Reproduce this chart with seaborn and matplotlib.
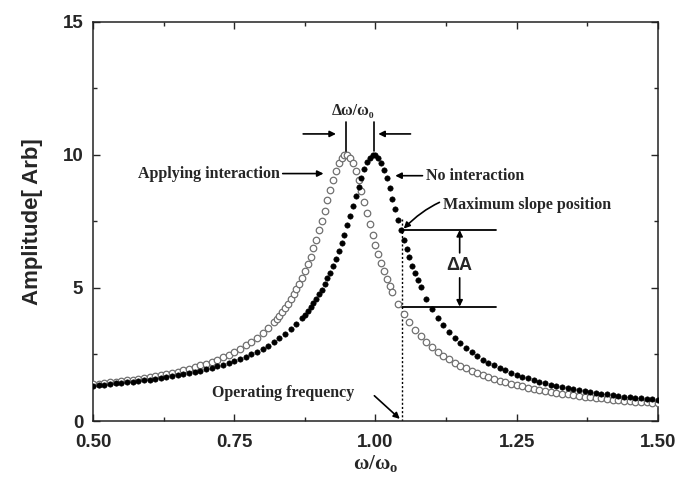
import matplotlib
matplotlib.use("Agg")
import matplotlib.pyplot as plt
from matplotlib.ticker import MultipleLocator, AutoMinorLocator
import pandas as pd
import seaborn as sns

# resonance curves
x_no = [0.50, 0.51, 0.52, 0.53, 0.54, 0.55, 0.56, 0.57, 0.58, 0.59,
        0.60, 0.61, 0.62, 0.63, 0.64, 0.65, 0.66, 0.67, 0.68, 0.69,
        0.70, 0.71, 0.72, 0.73, 0.74, 0.75, 0.76, 0.77, 0.78, 0.79,
        0.80, 0.81, 0.82, 0.83, 0.84, 0.85, 0.86, 0.87, 0.875, 0.88,
        0.885, 0.89, 0.895, 0.90, 0.905, 0.91, 0.915, 0.92, 0.925, 0.93,
        0.935, 0.94, 0.945, 0.95, 0.955, 0.96, 0.965, 0.97, 0.975, 0.98,
        0.985, 0.99, 0.995, 1.00, 1.005, 1.01, 1.015, 1.02, 1.025, 1.03,
        1.035, 1.04, 1.045, 1.05, 1.055, 1.06, 1.065, 1.07, 1.075, 1.08,
        1.09, 1.10, 1.11, 1.12, 1.13, 1.14, 1.15, 1.16, 1.17, 1.18,
        1.19, 1.20, 1.21, 1.22, 1.23, 1.24, 1.25, 1.26, 1.27, 1.28,
        1.29, 1.30, 1.31, 1.32, 1.33, 1.34, 1.35, 1.36, 1.37, 1.38,
        1.39, 1.40, 1.41, 1.42, 1.43, 1.44, 1.45, 1.46, 1.47, 1.48,
        1.49, 1.50]
amp_no = [1.33, 1.35, 1.37, 1.39, 1.41, 1.43, 1.45, 1.48, 1.50, 1.53,
          1.56, 1.59, 1.62, 1.65, 1.68, 1.72, 1.76, 1.80, 1.85, 1.89,
          1.94, 2.00, 2.05, 2.12, 2.18, 2.25, 2.33, 2.41, 2.50, 2.60,
          2.71, 2.83, 2.96, 3.11, 3.27, 3.45, 3.65, 3.87, 4.00, 4.13,
          4.27, 4.42, 4.58, 4.76, 4.94, 5.14, 5.36, 5.58, 5.83, 6.10,
          6.38, 6.69, 7.01, 7.35, 7.70, 8.07, 8.44, 8.81, 9.15, 9.46,
          9.72, 9.90, 10.00, 10.00, 9.90, 9.71, 9.44, 9.12, 8.75, 8.36,
          7.96, 7.57, 7.18, 6.82, 6.47, 6.15, 5.84, 5.56, 5.29, 5.04,
          4.60, 4.22, 3.89, 3.60, 3.34, 3.12, 2.92, 2.74, 2.58, 2.44,
          2.31, 2.19, 2.09, 1.99, 1.90, 1.81, 1.74, 1.66, 1.60, 1.54,
          1.48, 1.42, 1.37, 1.33, 1.28, 1.24, 1.20, 1.16, 1.13, 1.09,
          1.06, 1.03, 1.00, 0.97, 0.95, 0.92, 0.90, 0.88, 0.86, 0.83,
          0.81, 0.79]

x_int = [0.50, 0.51, 0.52, 0.53, 0.54, 0.55, 0.56, 0.57, 0.58, 0.59,
         0.60, 0.61, 0.62, 0.63, 0.64, 0.65, 0.66, 0.67, 0.68, 0.69,
         0.70, 0.71, 0.72, 0.73, 0.74, 0.75, 0.76, 0.77, 0.78, 0.79,
         0.80, 0.81, 0.82, 0.825, 0.83, 0.835, 0.84, 0.845, 0.85, 0.855,
         0.86, 0.865, 0.87, 0.875, 0.88, 0.885, 0.89, 0.895, 0.90, 0.905,
         0.91, 0.915, 0.92, 0.925, 0.93, 0.935, 0.94, 0.945, 0.95, 0.955,
         0.96, 0.965, 0.97, 0.975, 0.98, 0.985, 0.99, 0.995, 1.00, 1.005,
         1.01, 1.015, 1.02, 1.025, 1.03, 1.04, 1.05, 1.06, 1.07, 1.08,
         1.09, 1.10, 1.11, 1.12, 1.13, 1.14, 1.15, 1.16, 1.17, 1.18,
         1.19, 1.20, 1.21, 1.22, 1.23, 1.24, 1.25, 1.26, 1.27, 1.28,
         1.29, 1.30, 1.31, 1.32, 1.33, 1.34, 1.35, 1.36, 1.37, 1.38,
         1.39, 1.40, 1.41, 1.42, 1.43, 1.44, 1.45, 1.46, 1.47, 1.48,
         1.49, 1.50]
amp_int = [1.38, 1.40, 1.42, 1.45, 1.47, 1.50, 1.53, 1.56, 1.59, 1.62,
           1.65, 1.69, 1.73, 1.77, 1.82, 1.86, 1.92, 1.97, 2.03, 2.09,
           2.16, 2.23, 2.31, 2.40, 2.49, 2.60, 2.71, 2.84, 2.98, 3.13,
           3.30, 3.50, 3.72, 3.84, 3.96, 4.10, 4.25, 4.41, 4.57, 4.76,
           4.95, 5.16, 5.39, 5.64, 5.90, 6.18, 6.49, 6.82, 7.17, 7.53,
           7.91, 8.30, 8.69, 9.06, 9.40, 9.68, 9.89, 10.00, 10.00, 9.89,
           9.69, 9.39, 9.04, 8.65, 8.23, 7.81, 7.40, 7.01, 6.63, 6.28,
           5.95, 5.64, 5.35, 5.09, 4.85, 4.41, 4.04, 3.72, 3.43, 3.19,
           2.97, 2.78, 2.61, 2.46, 2.32, 2.19, 2.08, 1.98, 1.88, 1.80,
           1.72, 1.64, 1.57, 1.51, 1.45, 1.40, 1.35, 1.30, 1.25, 1.21,
           1.17, 1.13, 1.10, 1.06, 1.03, 1.00, 0.97, 0.94, 0.92, 0.89,
           0.87, 0.85, 0.83, 0.80, 0.78, 0.77, 0.75, 0.73, 0.71, 0.70,
           0.68, 0.67]

# operating point and amplitude levels
f_op = 1.047
amp_hi = 7.18
amp_lo = 4.30

df_no = pd.DataFrame({"w": x_no, "amp": amp_no})
df_int = pd.DataFrame({"w": x_int, "amp": amp_int})

sns.set_style("ticks")
plt.rcParams["font.family"] = ["Liberation Sans", "DejaVu Sans"]
serif = ["Liberation Serif", "DejaVu Serif"]

fig = plt.figure(figsize=(6.79, 4.87), dpi=100)
ax = fig.add_axes([0.137, 0.1355, 0.832, 0.8195])

sns.scatterplot(data=df_int, x="w", y="amp", ax=ax, marker="o", s=22,
                facecolor="white", edgecolor="#707070", linewidth=0.9, zorder=3)
sns.scatterplot(data=df_no, x="w", y="amp", ax=ax, marker="o", s=15,
                color="black", edgecolor="black", linewidth=0.4, zorder=4)

ax.set_xlim(0.5, 1.5)
ax.set_ylim(0, 15)
ax.xaxis.set_major_locator(MultipleLocator(0.25))
ax.yaxis.set_major_locator(MultipleLocator(5))
ax.xaxis.set_minor_locator(AutoMinorLocator(2))
ax.yaxis.set_minor_locator(AutoMinorLocator(2))
ax.xaxis.set_major_formatter(plt.FormatStrFormatter("%.2f"))
ax.tick_params(which="both", direction="in", top=True, right=True, width=1.0)
ax.tick_params(which="major", length=5, labelsize=13.5)
ax.tick_params(axis="x", which="major", pad=9)
ax.tick_params(axis="y", which="major", pad=7)
ax.tick_params(which="minor", length=3)
for lab in ax.get_xticklabels() + ax.get_yticklabels():
    lab.set_fontweight("bold")
for sp in ax.spines.values():
    sp.set_linewidth(1.1)
    sp.set_color("#222222")

ax.set_xlabel(r"ω/ω$_{\mathregular{o}}$", family=serif, fontsize=15,
              fontweight="bold", labelpad=2)
ax.set_ylabel("Amplitude[ Arb]", fontsize=16, fontweight="bold", labelpad=14)

arrow = dict(arrowstyle="-|>", color="black", lw=1.2, mutation_scale=9,
             shrinkA=0, shrinkB=0)
tfont = dict(family=serif, fontsize=11.5, fontweight="bold")

# delta omega marker
ax.plot([0.947, 0.947], [10.08, 11.24], color="black", lw=1.2)
ax.plot([0.998, 0.998], [10.15, 11.24], color="black", lw=1.2)
ax.annotate("", xy=(0.93, 10.79), xytext=(0.872, 10.79), arrowprops=arrow)
ax.annotate("", xy=(1.005, 10.79), xytext=(1.062, 10.79), arrowprops=arrow)
ax.text(0.96, 11.65, "Δω/ω₀", ha="center", va="center", **tfont)

ax.annotate("Applying interaction", xy=(0.908, 9.3), xytext=(0.83, 9.3),
            ha="right", va="center", arrowprops=arrow, **tfont)
ax.annotate("No interaction", xy=(1.035, 9.22), xytext=(1.089, 9.22),
            ha="left", va="center", arrowprops=arrow, **tfont)
ax.annotate("Maximum slope position", xy=(f_op + 0.003, amp_hi + 0.05),
            xytext=(1.119, 8.12), ha="left", va="center",
            arrowprops=dict(arrow, connectionstyle="arc3,rad=0.35"), **tfont)
ax.annotate("Operating frequency", xy=(f_op - 0.004, 0.08), xytext=(0.711, 1.05),
            ha="left", va="center", **tfont)
ax.annotate("", xy=(f_op - 0.004, 0.08), xytext=(0.998, 0.95), arrowprops=arrow)

# operating frequency and amplitude change
ax.plot([f_op, f_op], [0, 7.6], color="black", lw=1.0, ls=(0, (1.5, 1.5)))
ax.plot([f_op, 1.213], [amp_hi, amp_hi], color="black", lw=1.3)
ax.plot([f_op, 1.213], [amp_lo, amp_lo], color="black", lw=1.3)
ax.annotate("", xy=(1.149, amp_hi), xytext=(1.149, 6.32), arrowprops=arrow)
ax.annotate("", xy=(1.149, amp_lo), xytext=(1.149, 5.38), arrowprops=arrow)
ax.text(1.149, 5.83, "ΔA", ha="center", va="center", fontsize=13,
        fontweight="bold")

fig.savefig("out.png", dpi=100)
